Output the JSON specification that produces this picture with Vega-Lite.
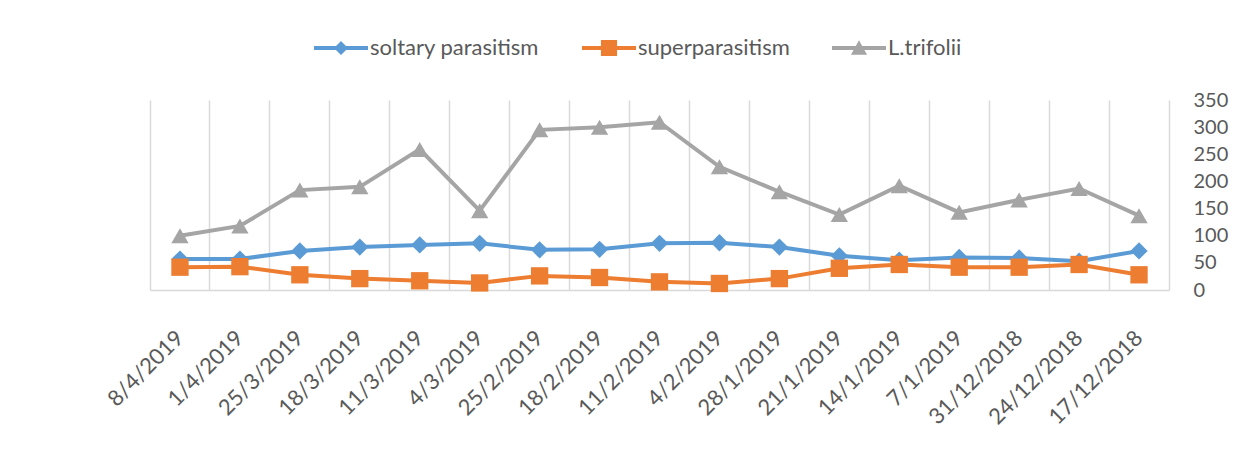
{
  "$schema": "https://vega.github.io/schema/vega-lite/v6.json",
  "width": 1019,
  "height": 190,
  "autosize": {"type": "none"},
  "padding": {"left": 150, "top": 100, "right": 86, "bottom": 161},
  "background": "white",
  "config": {
    "view": {"stroke": null},
    "font": "Lato"
  },
  "data": {
    "values": [
      {"date": "8/4/2019", "series": "soltary parasitism", "value": 57},
      {"date": "1/4/2019", "series": "soltary parasitism", "value": 57},
      {"date": "25/3/2019", "series": "soltary parasitism", "value": 72},
      {"date": "18/3/2019", "series": "soltary parasitism", "value": 79},
      {"date": "11/3/2019", "series": "soltary parasitism", "value": 83},
      {"date": "4/3/2019", "series": "soltary parasitism", "value": 86},
      {"date": "25/2/2019", "series": "soltary parasitism", "value": 74},
      {"date": "18/2/2019", "series": "soltary parasitism", "value": 75},
      {"date": "11/2/2019", "series": "soltary parasitism", "value": 86},
      {"date": "4/2/2019", "series": "soltary parasitism", "value": 87},
      {"date": "28/1/2019", "series": "soltary parasitism", "value": 79},
      {"date": "21/1/2019", "series": "soltary parasitism", "value": 63},
      {"date": "14/1/2019", "series": "soltary parasitism", "value": 55},
      {"date": "7/1/2019", "series": "soltary parasitism", "value": 60},
      {"date": "31/12/2018", "series": "soltary parasitism", "value": 59},
      {"date": "24/12/2018", "series": "soltary parasitism", "value": 53},
      {"date": "17/12/2018", "series": "soltary parasitism", "value": 72},
      {"date": "8/4/2019", "series": "superparasitism", "value": 42},
      {"date": "1/4/2019", "series": "superparasitism", "value": 43},
      {"date": "25/3/2019", "series": "superparasitism", "value": 28},
      {"date": "18/3/2019", "series": "superparasitism", "value": 21},
      {"date": "11/3/2019", "series": "superparasitism", "value": 17},
      {"date": "4/3/2019", "series": "superparasitism", "value": 13},
      {"date": "25/2/2019", "series": "superparasitism", "value": 26},
      {"date": "18/2/2019", "series": "superparasitism", "value": 23},
      {"date": "11/2/2019", "series": "superparasitism", "value": 15},
      {"date": "4/2/2019", "series": "superparasitism", "value": 12},
      {"date": "28/1/2019", "series": "superparasitism", "value": 21},
      {"date": "21/1/2019", "series": "superparasitism", "value": 40},
      {"date": "14/1/2019", "series": "superparasitism", "value": 47},
      {"date": "7/1/2019", "series": "superparasitism", "value": 42},
      {"date": "31/12/2018", "series": "superparasitism", "value": 42},
      {"date": "24/12/2018", "series": "superparasitism", "value": 47},
      {"date": "17/12/2018", "series": "superparasitism", "value": 28},
      {"date": "8/4/2019", "series": "L.trifolii", "value": 100},
      {"date": "1/4/2019", "series": "L.trifolii", "value": 118},
      {"date": "25/3/2019", "series": "L.trifolii", "value": 184},
      {"date": "18/3/2019", "series": "L.trifolii", "value": 190},
      {"date": "11/3/2019", "series": "L.trifolii", "value": 259},
      {"date": "4/3/2019", "series": "L.trifolii", "value": 146},
      {"date": "25/2/2019", "series": "L.trifolii", "value": 295},
      {"date": "18/2/2019", "series": "L.trifolii", "value": 300},
      {"date": "11/2/2019", "series": "L.trifolii", "value": 309},
      {"date": "4/2/2019", "series": "L.trifolii", "value": 227},
      {"date": "28/1/2019", "series": "L.trifolii", "value": 181},
      {"date": "21/1/2019", "series": "L.trifolii", "value": 139},
      {"date": "14/1/2019", "series": "L.trifolii", "value": 192},
      {"date": "7/1/2019", "series": "L.trifolii", "value": 143},
      {"date": "31/12/2018", "series": "L.trifolii", "value": 166},
      {"date": "24/12/2018", "series": "L.trifolii", "value": 187},
      {"date": "17/12/2018", "series": "L.trifolii", "value": 137}
    ]
  },
  "encoding": {
    "x": {
      "field": "date",
      "type": "nominal",
      "sort": null,
      "scale": {"type": "band", "paddingInner": 0, "paddingOuter": 0},
      "axis": {
        "title": null,
        "bandPosition": 0,
        "grid": true,
        "gridColor": "#d9d9d9",
        "gridWidth": 1.5,
        "ticks": false,
        "domain": true,
        "domainColor": "#d9d9d9",
        "domainWidth": 1.5,
        "labelAngle": -45,
        "labelAlign": "right",
        "labelBaseline": "middle",
        "labelOffset": 0,
        "labelPadding": 44,
        "labelFont": "Lato",
        "labelFontSize": 22,
        "labelColor": "#595959",
        "labelOverlap": false,
        "labelBound": false
      }
    },
    "y": {
      "field": "value",
      "type": "quantitative",
      "scale": {"domain": [0, 350], "nice": false, "zero": true},
      "axis": {
        "title": null,
        "orient": "right",
        "values": [0, 50, 100, 150, 200, 250, 300, 350],
        "grid": false,
        "ticks": false,
        "domain": true,
        "domainColor": "#d9d9d9",
        "domainWidth": 1.5,
        "labelPadding": 24,
        "labelAlign": "left",
        "labelFont": "Lato",
        "labelFontSize": 20,
        "labelColor": "#595959"
      }
    },
    "color": {
      "field": "series",
      "type": "nominal",
      "sort": null,
      "scale": {
        "domain": ["soltary parasitism", "superparasitism", "L.trifolii"],
        "range": ["#5B9BD5", "#ED7D31", "#A5A5A5"]
      },
      "legend": null
    }
  },
  "layer": [
    {
      "mark": {"type": "line", "strokeWidth": 4}
    },
    {
      "mark": {"type": "point", "filled": true, "opacity": 1, "size": 300},
      "encoding": {
        "shape": {
          "field": "series",
          "type": "nominal",
          "sort": null,
          "scale": {
            "domain": ["soltary parasitism", "superparasitism", "L.trifolii"],
            "range": ["diamond", "square", "triangle-up"]
          },
          "legend": null
        }
      }
    },
    {
      "mark": {"type": "point", "filled": true, "opacity": 0, "size": 1},
      "encoding": {
        "color": {
          "field": "series",
          "type": "nominal",
          "sort": null,
          "legend": {
            "title": null,
            "orient": "none",
            "direction": "horizontal",
            "legendX": 180,
            "legendY": -63,
            "symbolSize": 196,
            "symbolStrokeWidth": 0,
            "symbolOpacity": 1,
            "labelOffset": 18,
            "labelLimit": 0,
            "columnPadding": 41,
            "labelFont": "Lato",
            "labelFontSize": 22,
            "labelColor": "#595959"
          }
        },
        "shape": {
          "field": "series",
          "type": "nominal",
          "sort": null,
          "scale": {
            "domain": ["soltary parasitism", "superparasitism", "L.trifolii"],
            "range": [
              "M-3.86,-0.29H3.86V0.29H-3.86Z M0,-1L1,0L0,1L-1,0Z",
              "M-3.86,-0.29H3.86V0.29H-3.86Z M-1.15,-1.15H1.15V1.15H-1.15Z",
              "M-3.86,-0.29H3.86V0.29H-3.86Z M0,-1.1L1.15,0.95H-1.15Z"
            ]
          },
          "legend": {
            "title": null,
            "orient": "none",
            "direction": "horizontal",
            "legendX": 180,
            "legendY": -63,
            "symbolSize": 196,
            "symbolStrokeWidth": 0,
            "symbolOpacity": 1,
            "labelOffset": 18,
            "labelLimit": 0,
            "columnPadding": 41,
            "labelFont": "Lato",
            "labelFontSize": 22,
            "labelColor": "#595959"
          }
        }
      }
    }
  ],
  "resolve": {
    "scale": {"shape": "independent"},
    "legend": {"color": "independent", "shape": "independent"}
  }
}
